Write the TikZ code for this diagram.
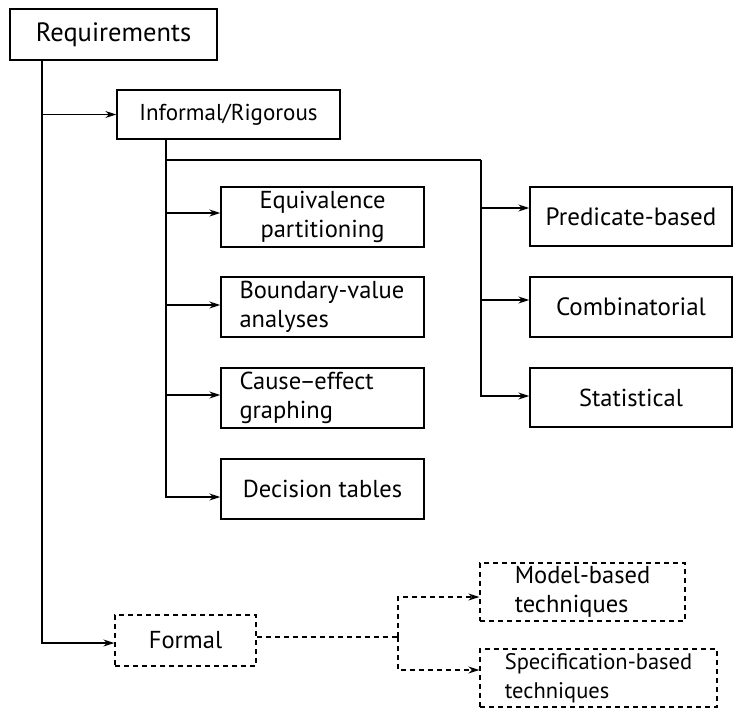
\documentclass[tikz,border=0pt]{standalone}
\usepackage{fontspec}
\setmainfont{PT Sans}
\usetikzlibrary{arrows.meta}
\newcommand{\fsz}[1]{\fontsize{#1}{29}\selectfont}
\begin{document}
\begin{tikzpicture}[x=1pt,y=-1pt,
  box/.style={draw, line width=1.4pt, inner sep=0pt, font=\fsz{24.5}},
  dbox/.style={box, line width=1.3pt, dash pattern=on 5pt off 4pt},
  link/.style={line width=1.3pt},
  dlink/.style={link, dash pattern=on 5pt off 4pt},
  arr/.style={link, -{Stealth[length=11pt,width=7pt]}},
  darr/.style={dlink, -{Stealth[length=11pt,width=7pt]}}]
\useasboundingbox (0,0) rectangle (734,710);

% top levels
\node[box, font=\fsz{26.5}, minimum width=207pt, minimum height=51pt] (req) at (113.5,34.5) {Requirements};
\node[box, font=\fsz{23}, minimum width=223pt, minimum height=49pt] (inf) at (228.5,114.5) {Informal/Rigorous};

% informal techniques, left column
\node[box, minimum width=203pt, minimum height=60pt, align=center] (eq) at (322.5,217) {Equivalence\\partitioning};
\node[box, minimum width=203pt, minimum height=60pt, text width=166pt, align=left] (bv) at (322.5,307) {Boundary-value\\analyses};
\node[box, minimum width=203pt, minimum height=60pt, text width=166pt, align=left] (ce) at (322.5,398) {Cause\kern-1.5pt\textendash\kern-1.5pt effect\\graphing};
\node[box, minimum width=203pt, minimum height=60pt] (dt) at (322.5,489) {Decision tables};

% informal techniques, right column
\node[box, font=\fsz{25}, minimum width=202pt, minimum height=59pt] (pb) at (631,216.5) {Predicate-based};
\node[box, font=\fsz{25}, minimum width=202pt, minimum height=60pt] (cb) at (631,307) {Combinatorial};
\node[box, minimum width=202pt, minimum height=59pt] (st) at (631,397.5) {Statistical};

% formal branch
\node[dbox, minimum width=141pt, minimum height=51pt] (fo) at (185.5,640.5) {Formal};
\node[dbox, minimum width=205pt, minimum height=58pt, align=left] (mb) at (582.5,592) {Model-based\\techniques};
\node[dbox, font=\fsz{22.5}, minimum width=237pt, minimum height=58pt, align=left] (sb) at (598.5,678) {Specification-based\\techniques};

% trunk lines
\coordinate (reqtrunk) at (42,60);
\coordinate (inftrunk) at (166,139);
\coordinate (fork) at (166,160);
\coordinate (rtrunk) at (481,160);
\coordinate (dfork) at (398,637);

\draw[arr] (reqtrunk |- inf.west) -- (inf.west);
\draw[arr] (reqtrunk) |- ([yshift=-2.5pt]fo.west);

\draw[arr] (inftrunk |- eq.west) ++(0,-4) -- ([yshift=4pt]eq.west);
\draw[arr] (inftrunk |- bv.west) ++(0,-2) -- ([yshift=2pt]bv.west);
\draw[arr] (inftrunk |- ce.west) ++(0,-3) -- ([yshift=3pt]ce.west);
\draw[arr] (inftrunk) |- ([yshift=-8pt]dt.west);

\draw[link] (fork) -- (rtrunk);
\draw[arr] (rtrunk |- pb.west) ++(0,-8.5) -- ([yshift=8.5pt]pb.west);
\draw[arr] (rtrunk |- cb.west) ++(0,-7) -- ([yshift=7pt]cb.west);
\draw[arr] (rtrunk) |- ([yshift=1.5pt]st.west);

\draw[dlink] ([yshift=3.5pt]fo.east) -- (dfork);
\draw[darr] (dfork) |- ([yshift=-5pt]mb.west);
\draw[darr] (dfork) |- ([yshift=8pt]sb.west);
\end{tikzpicture}
\end{document}
